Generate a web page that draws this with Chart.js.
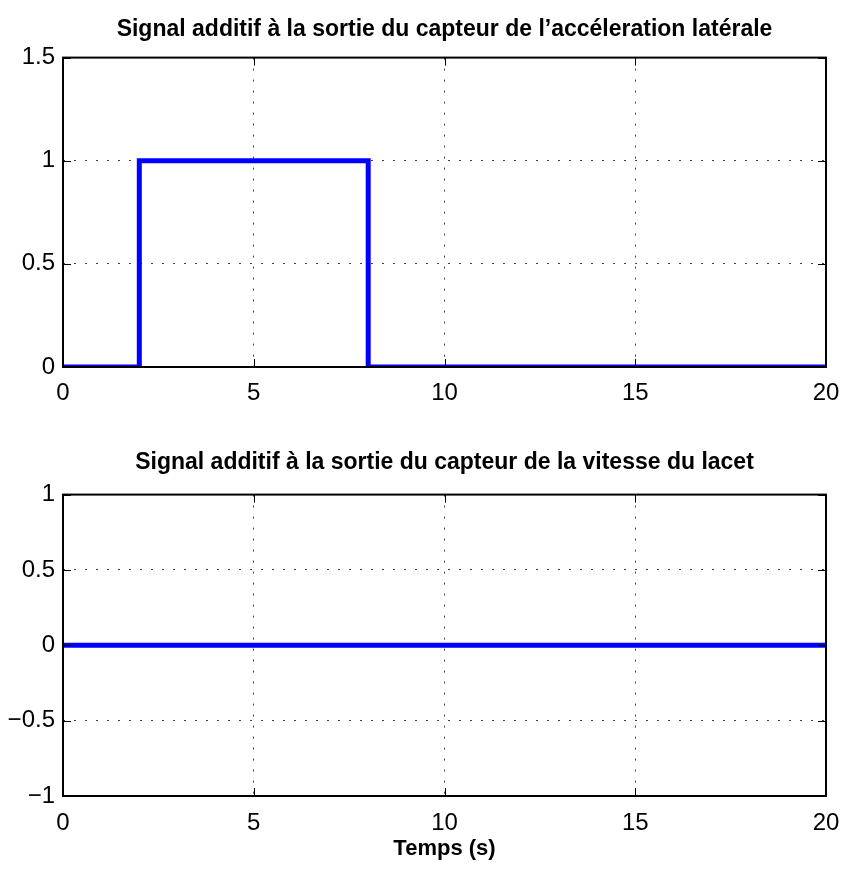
<!DOCTYPE html>
<html>
<head>
<meta charset="utf-8">
<script src="https://cdn.jsdelivr.net/npm/chart.js@4.4.1/dist/chart.umd.min.js"></script>
<style>
  body { margin: 0; background: #fff; }
  canvas { position: absolute; left: 0; }
</style>
</head>
<body>
<canvas id="c1" width="841" height="420" style="top:0px"></canvas>
<canvas id="c2" width="841" height="451" style="top:420px"></canvas>
<script>
// donnees
const temps = [0, 2, 2, 8, 8, 20];
const accelLat = [0, 0, 1, 1, 0, 0];
const tempsLacet = [0, 20];
const vitLacet = [0, 0];

const xTicks = [0, 5, 10, 15, 20];
const yTicks1 = [0, 0.5, 1, 1.5];
const yTicks2 = [-1, -0.5, 0, 0.5, 1];

const titre1 = "Signal additif à la sortie du capteur de l\u2019accéleration latérale";
const titre2 = "Signal additif à la sortie du capteur de la vitesse du lacet";
const xLabel = "Temps (s)";

const police = "'Liberation Sans', Arial, Helvetica, sans-serif";

// cadre + petites graduations vers l'interieur, comme matlab
const cadre = {
  id: 'cadre',
  afterDatasetsDraw(chart) {
    const { ctx, chartArea: a, scales: { x, y } } = chart;
    ctx.save();
    ctx.strokeStyle = '#000';
    ctx.lineWidth = 1;
    ctx.beginPath();
    x.ticks.forEach(t => {
      const px = Math.round(x.getPixelForValue(t.value)) + 0.5;
      ctx.moveTo(px, a.bottom); ctx.lineTo(px, a.bottom - 8);
      ctx.moveTo(px, a.top); ctx.lineTo(px, a.top + 8);
    });
    y.ticks.forEach(t => {
      const py = Math.round(y.getPixelForValue(t.value)) + 0.5;
      ctx.moveTo(a.left, py); ctx.lineTo(a.left + 8, py);
      ctx.moveTo(a.right, py); ctx.lineTo(a.right - 8, py);
    });
    ctx.stroke();
    ctx.lineWidth = 2;
    ctx.strokeRect(a.left, a.top, a.width, a.height);
    ctx.restore();
  }
};

function fmt(v) {
  return String(v).replace('-', '\u2212');
}

function makeChart(id, titre, xs, ys, yMin, yMax, yTicks, opt) {
  const pts = xs.map((v, i) => ({ x: v, y: ys[i] }));
  return new Chart(document.getElementById(id), {
    type: 'line',
    data: {
      datasets: [{
        data: pts,
        borderColor: '#0000ff',
        borderWidth: 5,
        pointRadius: 0,
        tension: 0,
        fill: false,
        borderJoinStyle: 'miter',
        clip: { left: 3, right: 3, top: 3, bottom: 0 }
      }]
    },
    options: {
      responsive: false,
      animation: false,
      layout: { padding: { left: 0, right: 15, top: 0, bottom: 0 } },
      plugins: {
        legend: { display: false },
        tooltip: { enabled: false },
        title: {
          display: true,
          fullSize: false,
          text: titre,
          color: '#000',
          font: { family: police, size: 23, weight: 'bold', lineHeight: 1.2 },
          padding: opt.titlePad
        }
      },
      scales: {
        x: {
          type: 'linear',
          min: 0, max: 20,
          afterBuildTicks: s => { s.ticks = xTicks.map(v => ({ value: v })); },
          afterFit: s => { s.height = opt.xHeight; s.paddingLeft = 0; s.paddingRight = 0; },
          ticks: {
            color: '#000',
            padding: opt.tickPad,
            maxRotation: 0,
            font: { family: police, size: 24 },
            callback: v => fmt(v)
          },
          grid: { color: '#444', lineWidth: 1, drawTicks: false },
          border: { display: false, dash: [2, 9] },
          title: opt.xTitle ? {
            display: true,
            text: opt.xTitle,
            color: '#000',
            font: { family: police, size: 22, weight: 'bold', lineHeight: 1.2 },
            padding: { top: 0, bottom: 9 }
          } : { display: false }
        },
        y: {
          min: yMin, max: yMax,
          afterBuildTicks: s => { s.ticks = yTicks.map(v => ({ value: v })); },
          afterFit: s => { s.width = 63; s.paddingTop = 0; s.paddingBottom = 0; },
          ticks: {
            color: '#000',
            padding: 8,
            font: { family: police, size: 24 },
            callback: v => fmt(v)
          },
          grid: { color: '#444', lineWidth: 1, drawTicks: false },
          border: { display: false, dash: [2, 9] }
        }
      }
    },
    plugins: [cadre]
  });
}

makeChart('c1', titre1, temps, accelLat, 0, 1.5, yTicks1, {
  titlePad: { top: 16, bottom: 14 },
  xHeight: 53,
  tickPad: 12
});

makeChart('c2', titre2, tempsLacet, vitLacet, -1, 1, yTicks2, {
  titlePad: { top: 29, bottom: 18 },
  xHeight: 75,
  tickPad: 13,
  xTitle: xLabel
});
</script>
</body>
</html>
